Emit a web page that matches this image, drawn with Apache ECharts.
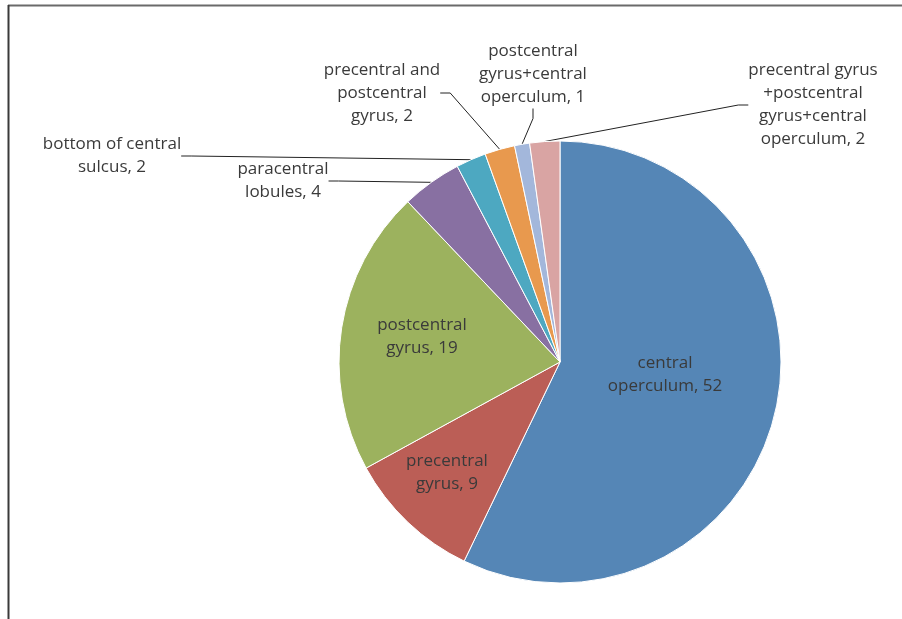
<!DOCTYPE html>
<html>
<head>
<meta charset="utf-8">
<script src="https://cdn.jsdelivr.net/npm/echarts@6/dist/echarts.min.js"></script>
<style>html,body{margin:0;padding:0;background:#fff}#c{width:902px;height:619px}</style>
</head>
<body>
<div id="c"></div>
<script>
var categories = [
  "central\noperculum",
  "precentral\ngyrus",
  "postcentral\ngyrus",
  "paracentral\nlobules",
  "bottom of central\nsulcus",
  "precentral and\npostcentral\ngyrus",
  "postcentral\ngyrus+central\noperculum",
  "precentral gyrus\n+postcentral\ngyrus+central\noperculum"
];
var values = [52, 9, 19, 4, 2, 2, 1, 2];
var colors = ["#5586B6", "#BB5E56", "#9CB25E", "#8870A2", "#4DA8C1", "#E8994E", "#A3B7DB", "#D9A4A3"];

// label anchor positions (centre of text block), in pixels
var labelPos = [
  [665, 375], [447, 473], [422, 337], [283, 181],
  [112, 156], [382, 93], [533, 74], [813, 105]
];
var insideIdx = [0, 1, 2];

var chart = echarts.init(document.getElementById('c'), null, {renderer: 'canvas'});
var data = categories.map(function (c, i) {
  var inside = insideIdx.indexOf(i) >= 0;
  return {
    name: c,
    value: values[i],
    itemStyle: {color: colors[i]},
    labelLine: {show: !inside}
  };
});
chart.setOption({
  animation: false,
  graphic: [
    {type: 'line', shape: {x1: 8, y1: 5.5, x2: 902, y2: 5.5}, style: {stroke: '#6a6a6a', lineWidth: 2}},
    {type: 'line', shape: {x1: 8.5, y1: 5, x2: 8.5, y2: 619}, style: {stroke: '#3a3a3a', lineWidth: 2}}
  ],
  series: [{
    type: 'pie',
    center: [560, 362],
    radius: [0, 221],
    startAngle: 90,
    clockwise: true,
    avoidLabelOverlap: false,
    data: data,
    itemStyle: {borderColor: '#fff', borderWidth: 1},
    label: {
      show: true,
      position: 'outside',
      formatter: function (p) { return p.name + ', ' + p.value; },
      fontFamily: 'Open Sans',
      fontSize: 17,
      lineHeight: 23,
      color: '#3a3a3a',
      align: 'center'
    },
    labelLine: {show: true, length: 10, length2: 10, lineStyle: {color: '#222', width: 1}},
    labelLayout: function (p) {
      var pos = labelPos[p.dataIndex];
      return {x: pos[0], y: pos[1], align: 'center', verticalAlign: 'middle', hideOverlap: false, moveOverlap: null};
    }
  }]
});
</script>
</body>
</html>
